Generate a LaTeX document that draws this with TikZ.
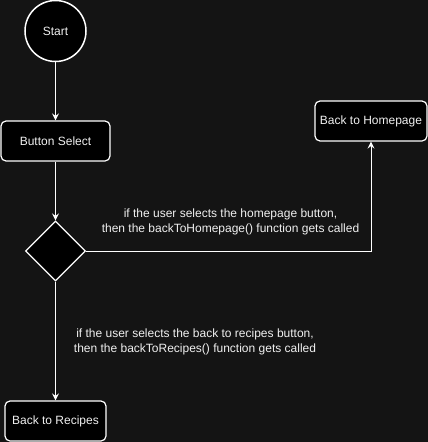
\documentclass[tikz,border=0pt]{standalone}
\usepackage{fontspec}
\setmainfont{Liberation Sans}
\usetikzlibrary{shapes.geometric,arrows.meta}
\definecolor{bg}{HTML}{141414}
\definecolor{txt}{HTML}{F0F0F0}
\begin{document}
\begin{tikzpicture}[x=1pt,y=-1pt,
  box/.style={draw=white,fill=black,line width=1.2pt,rounded corners=5pt,text=txt,font=\fontsize{12}{14}\selectfont,inner sep=0pt},
  conn/.style={draw=white,line width=1pt,-{Stealth[length=7pt,width=7pt,inset=2.5pt]}},
  lbl/.style={text=txt,font=\fontsize{12}{15}\selectfont,align=center,inner sep=0pt}]
\fill[bg] (0,0) rectangle (428,442);
\useasboundingbox (0,0) rectangle (428,442);
\node[circle,draw=white,fill=black,line width=1.5pt,minimum size=61pt,inner sep=0pt,text=txt,font=\fontsize{12}{14}\selectfont] (start) at (55.5,31) {Start};
\node[box,minimum width=109pt,minimum height=40pt] (btn) at (55.5,141) {Button Select};
\node[diamond,draw=white,fill=black,line width=1.2pt,minimum width=60pt,minimum height=60pt,inner sep=0pt] (dec) at (55.5,251) {};
\node[box,minimum width=112pt,minimum height=40pt] (home) at (371,121) {Back to Homepage};
\node[box,minimum width=101pt,minimum height=40pt] (rec) at (55.5,421) {Back to Recipes};
\draw[conn] (start) -- (btn);
\draw[conn] (btn) -- (dec);
\draw[conn] (dec.east) -| (home.south);
\draw[conn] (dec) -- (rec);
\node[lbl] (l1) at (230.5,221.5) {if the user selects the homepage button,\\then the backToHomepage() function gets called};
\node[lbl] (l2) at (195,341.5) {if the user selects the back to recipes button,\\then the backToRecipes() function gets called};
\end{tikzpicture}
\end{document}
